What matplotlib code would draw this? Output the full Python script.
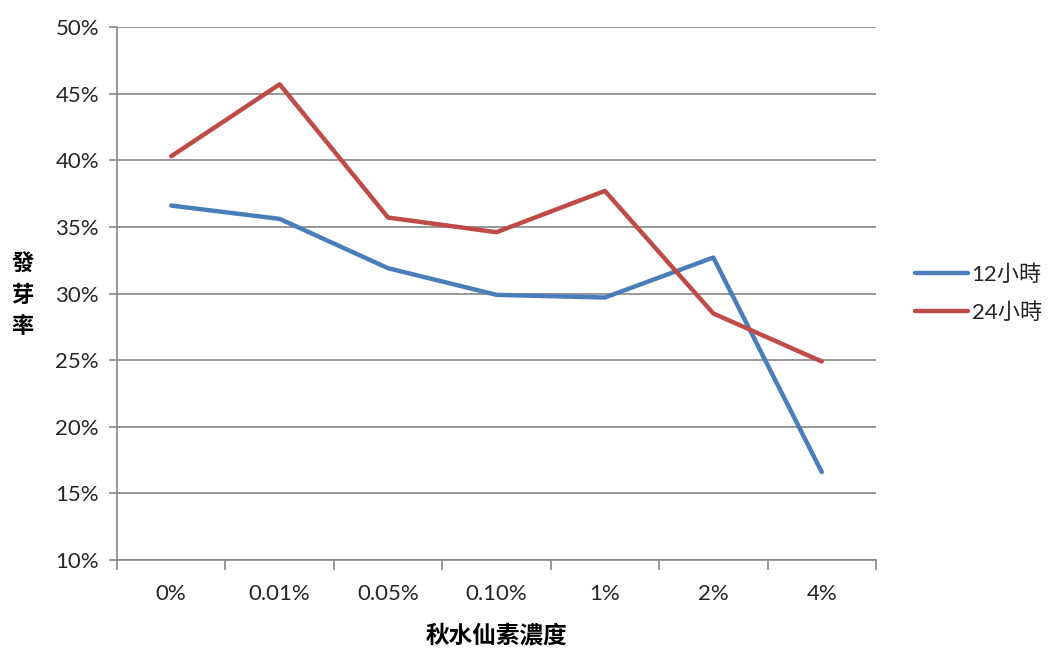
import matplotlib.pyplot as plt
import numpy as np

plt.rcParams['font.family'] = ['Lato', 'Noto Sans CJK TC', 'DejaVu Sans']

concentrations = ["0%", "0.01%", "0.05%", "0.10%", "1%", "2%", "4%"]
rate_12h = [36.6, 35.6, 31.9, 29.9, 29.7, 32.7, 16.6]
rate_24h = [40.3, 45.7, 35.7, 34.6, 37.7, 28.5, 24.9]

grid_color = "#868686"
text_color = "#262626"

fig = plt.figure(figsize=(10.56, 6.49), dpi=100)
ax = fig.add_axes([0.1108, 0.1371, 0.8295 - 0.1108, 0.9584 - 0.1371])

x = np.arange(len(concentrations))
ax.plot(x, rate_12h, color="#4A7EBB", lw=3.2, solid_capstyle="round", label="12小時")
ax.plot(x, rate_24h, color="#BE4B48", lw=3.2, solid_capstyle="round", label="24小時")

ax.set_xlim(-0.5, len(concentrations) - 0.5)
ax.set_ylim(10, 50)
ax.set_yticks(np.arange(10, 51, 5))
ax.set_yticklabels([f"{v}%" for v in range(10, 51, 5)])
ax.set_xticks(x)
ax.set_xticklabels(concentrations)
ax.set_xticks(np.arange(-0.5, len(concentrations)), minor=True)

ax.yaxis.grid(True, color=grid_color, lw=1.2)
ax.set_axisbelow(True)
for side in ["top", "right"]:
    ax.spines[side].set_visible(False)
for side in ["left", "bottom"]:
    ax.spines[side].set_color(grid_color)
    ax.spines[side].set_linewidth(1.2)

ax.tick_params(axis="y", length=6, width=1.2, color=grid_color, labelsize=16,
               labelcolor=text_color, pad=7)
ax.tick_params(axis="x", which="major", length=0, labelsize=16,
               labelcolor=text_color, pad=17)
ax.tick_params(axis="x", which="minor", length=7, width=1.2, color=grid_color)

fig.text(0.4706, 0.003, "秋水仙素濃度", ha="center", va="bottom", fontsize=17,
         fontweight="bold", family=["Noto Sans CJK TC"], color="black")
fig.text(0.021, 0.545, "發\n芽\n率", ha="center", va="center", fontsize=16,
         fontweight="bold", family=["Noto Sans CJK TC"], color="black",
         linespacing=1.45)

ax.legend(loc="center left", bbox_to_anchor=(1.025, 0.5), frameon=False,
          fontsize=16, handlelength=2.4, handletextpad=0.15, labelspacing=0.75,
          labelcolor=text_color)

fig.savefig("out.png", dpi=100)
